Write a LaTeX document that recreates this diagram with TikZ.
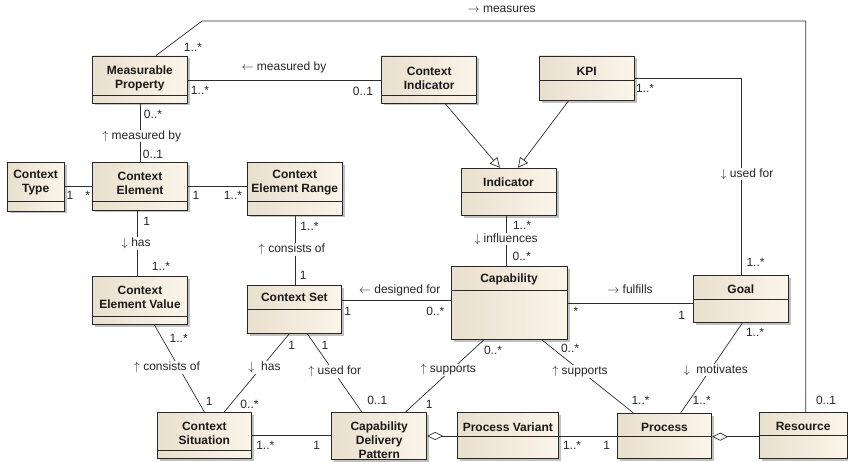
\documentclass[tikz,border=0pt]{standalone}
\usepackage{fontspec}
\setmainfont{Liberation Sans}
\usetikzlibrary{arrows.meta,shadows}
\definecolor{boxL}{RGB}{233,223,205}
\definecolor{boxR}{RGB}{251,245,234}
\definecolor{edgec}{RGB}{40,40,40}
\definecolor{lnk}{RGB}{45,45,45}
\newcommand\ra{$\rightarrow$\ }
\newcommand\la{$\leftarrow$\ }
\newcommand\ua{$\uparrow$\ }
\newcommand\da{$\downarrow$\ }
\tikzset{
 clsbox/.style={draw=edgec, line width=0.9pt, left color=boxL, right color=boxR, inner sep=0pt,
   drop shadow={shadow xshift=2.5pt, shadow yshift=-2.5pt, fill=black!35, opacity=0.7}},
 divline/.style={draw=edgec, line width=0.9pt},
 ttl/.style={font=\bfseries\fontsize{12}{14}\selectfont, align=center, text=black!90, inner sep=0pt},
 assoc/.style={draw=lnk, line width=0.7pt},
 gen/.style={assoc, -{Triangle[open, length=10pt, width=10pt]}},
 aggr/.style={assoc, -{Diamond[open, length=16pt, width=8pt]}},
 rl/.style={font=\fontsize{12}{14}\selectfont, fill=white, inner sep=0.8pt, text=black!85},
 mult/.style={font=\fontsize{12}{14}\selectfont, inner sep=0pt, text=black!85},
}
\newcommand\umlbox[8]{%
 \node[clsbox, minimum width={#4-#2}, minimum height={#5-#3}] (#1) at ({(#2+#4)/2},{(#3+#5)/2}) {};
 \ifx\relax#6\relax\else\draw[divline] (#2,#6) -- (#4,#6);\fi
 \node[ttl] at ({(#2+#4)/2},#7) {#8};
}
\begin{document}
\begin{tikzpicture}[x=1pt,y=-1pt]
\useasboundingbox (0,0) rectangle (848,462);
% boxes
\umlbox{mp}{92.7}{56}{187}{103}{95}{78}{Measurable\\Property}
\umlbox{ci}{381.7}{56}{476.7}{103}{95}{78}{Context\\Indicator}
\umlbox{kpi}{539.3}{56}{634}{100.7}{80.7}{71}{KPI}
\umlbox{ct}{7.3}{162.7}{64}{211}{201.7}{183}{Context\\Type}
\umlbox{ce}{92.7}{162.7}{187.3}{210}{201}{183}{Context\\Element}
\umlbox{cer}{247.3}{162.7}{342.3}{215}{201.7}{183}{Context\\Element Range}
\umlbox{ind}{461}{168.3}{556}{215.7}{192.3}{182}{Indicator}
\umlbox{cev}{92.7}{276.7}{187.3}{324.3}{316.7}{297.5}{Context\\Element Value}
\umlbox{cs}{247}{285}{341.7}{333.3}{309.3}{297}{Context Set}
\umlbox{cap}{451}{266.7}{567}{339.3}{290.7}{279}{Capability}
\umlbox{goal}{693.3}{275}{788.3}{322.7}{299}{289}{Goal}
\umlbox{csit}{157}{412.3}{251.7}{458.3}{450.7}{433}{Context\\Situation}
\umlbox{cdp}{331.7}{412.3}{426.7}{459.3}{}{440}{Capability\\Delivery\\Pattern}
\umlbox{pv}{457.3}{412.3}{558.3}{458}{436.7}{427}{Process Variant}
\umlbox{proc}{617.3}{413.3}{711.7}{458}{436.7}{427}{Process}
\umlbox{res}{759.3}{412.3}{847}{458}{435}{426}{Resource}
% connectors
\coordinate (m1) at (202,21);
\coordinate (m2) at (805.7,21);
\draw[assoc] (mp.north -| 156,0) -- (m1) -- (m2) -- (res.north -| m2);
\coordinate (k1) at (741.7,78.3);
\draw[assoc] (kpi.east |- k1) -- (k1) -- (goal.north -| k1);
\draw[assoc] (mp.east |- 0,80) -- (ci.west |- 0,80);
\draw[assoc] (mp.south -| 140,0) -- (ce.north -| 140,0);
\draw[assoc] (ct.east |- 0,186) -- (ce.west |- 0,186);
\draw[assoc] (ce.east |- 0,186) -- (cer.west |- 0,186);
\draw[assoc] (ce.south -| 137.3,0) -- (cev.north -| 137.3,0);
\draw[assoc] (cer.south -| 295,0) -- (cs.north -| 295,0);
\draw[assoc] (cs.east |- 0,300) -- (cap.west |- 0,300);
\draw[assoc] (ind.south -| 506.7,0) -- (cap.north -| 506.7,0);
\draw[assoc] (cap.east |- 0,303.3) -- (goal.west |- 0,303.3);
\draw[assoc] (cev.south -| 154.3,0) -- (csit.north -| 204.3,0);
\draw[assoc] (cs.south -| 289.3,0) -- (csit.north -| 224.3,0);
\draw[assoc] (cs.south -| 307.3,0) -- (cdp.north -| 361.7,0);
\draw[assoc] (cap.south -| 484,0) -- (cdp.north -| 405.7,0);
\draw[assoc] (cap.south -| 541.7,0) -- (proc.north -| 633.3,0);
\draw[assoc] (goal.south -| 742.3,0) -- (proc.north -| 680.7,0);
\draw[assoc] (csit.east |- 0,435.3) -- (cdp.west |- 0,435.3);
\draw[aggr] (pv.west |- 0,436) -- (cdp.east |- 0,436);
\draw[assoc] (pv.east |- 0,436.7) -- (proc.west |- 0,436.7);
\draw[aggr] (res.west |- 0,436.7) -- (proc.east |- 0,436.7);
\draw[gen] (ci.south -| 445,0) -- (ind.north -| 500,0);
\draw[gen] (kpi.south -| 568.3,0) -- (ind.north -| 518,0);
% labels
\node[rl] at (501.7,9.3) {\ra measures};
\node[mult] at (193,47) {1..*};
\node[mult] at (826,400) {0..1};
\node[rl] at (284,67) {\la measured by};
\node[mult] at (200,90) {1..*};
\node[mult] at (363,91) {0..1};
\node[mult] at (645,88) {1..*};
\node[rl] at (747,174) {\da used for};
\node[mult] at (755.5,262.7) {1..*};
\node[mult] at (153,114) {0..*};
\node[rl] at (141.7,136) {\ua measured by};
\node[mult] at (153,154) {0..1};
\node[mult] at (70,195.7) {1};
\node[mult] at (87.7,195.7) {*};
\node[mult] at (196,195.7) {1};
\node[mult] at (233,195.7) {1..*};
\node[mult] at (146.7,221.7) {1};
\node[rl] at (136.3,243.3) {\da has};
\node[mult] at (161,266.7) {1..*};
\node[mult] at (309.5,226.7) {1..*};
\node[rl] at (292,249.3) {\ua consists of};
\node[mult] at (303.3,275) {1};
\node[rl] at (399.7,290) {\la designed for};
\node[mult] at (347.7,311) {1};
\node[mult] at (435.3,311) {0..*};
\node[mult] at (522,225.5) {1..*};
\node[rl] at (506,239) {\da influences};
\node[mult] at (521.7,256.5) {0..*};
\node[rl] at (630,289.3) {\ra fulfills};
\node[mult] at (576,311.7) {*};
\node[mult] at (681.7,315) {1};
\node[mult] at (178.7,338.3) {1..*};
\node[rl] at (167,367.7) {\ua consists of};
\node[mult] at (209.3,401) {1};
\node[mult] at (291.7,345.7) {1};
\node[rl] at (264.5,367.7) {\da\ has};
\node[mult] at (249.5,404.3) {0..*};
\node[mult] at (325,345) {1};
\node[rl] at (334.7,371.7) {\ua used for};
\node[mult] at (377.3,400) {0..1};
\node[mult] at (493,350) {0..*};
\node[rl] at (448.3,370) {\ua supports};
\node[mult] at (429.3,404) {1};
\node[mult] at (570,348.3) {0..*};
\node[rl] at (580,371.7) {\ua supports};
\node[mult] at (640.5,400) {1..*};
\node[mult] at (755,332.7) {1..*};
\node[rl] at (715.8,370) {\da\ motivates};
\node[mult] at (701.7,400) {1..*};
\node[mult] at (265.3,445) {1..*};
\node[mult] at (316.7,445.7) {1};
\node[mult] at (572,445) {1..*};
\node[mult] at (606.7,445) {1};
\end{tikzpicture}
\end{document}
